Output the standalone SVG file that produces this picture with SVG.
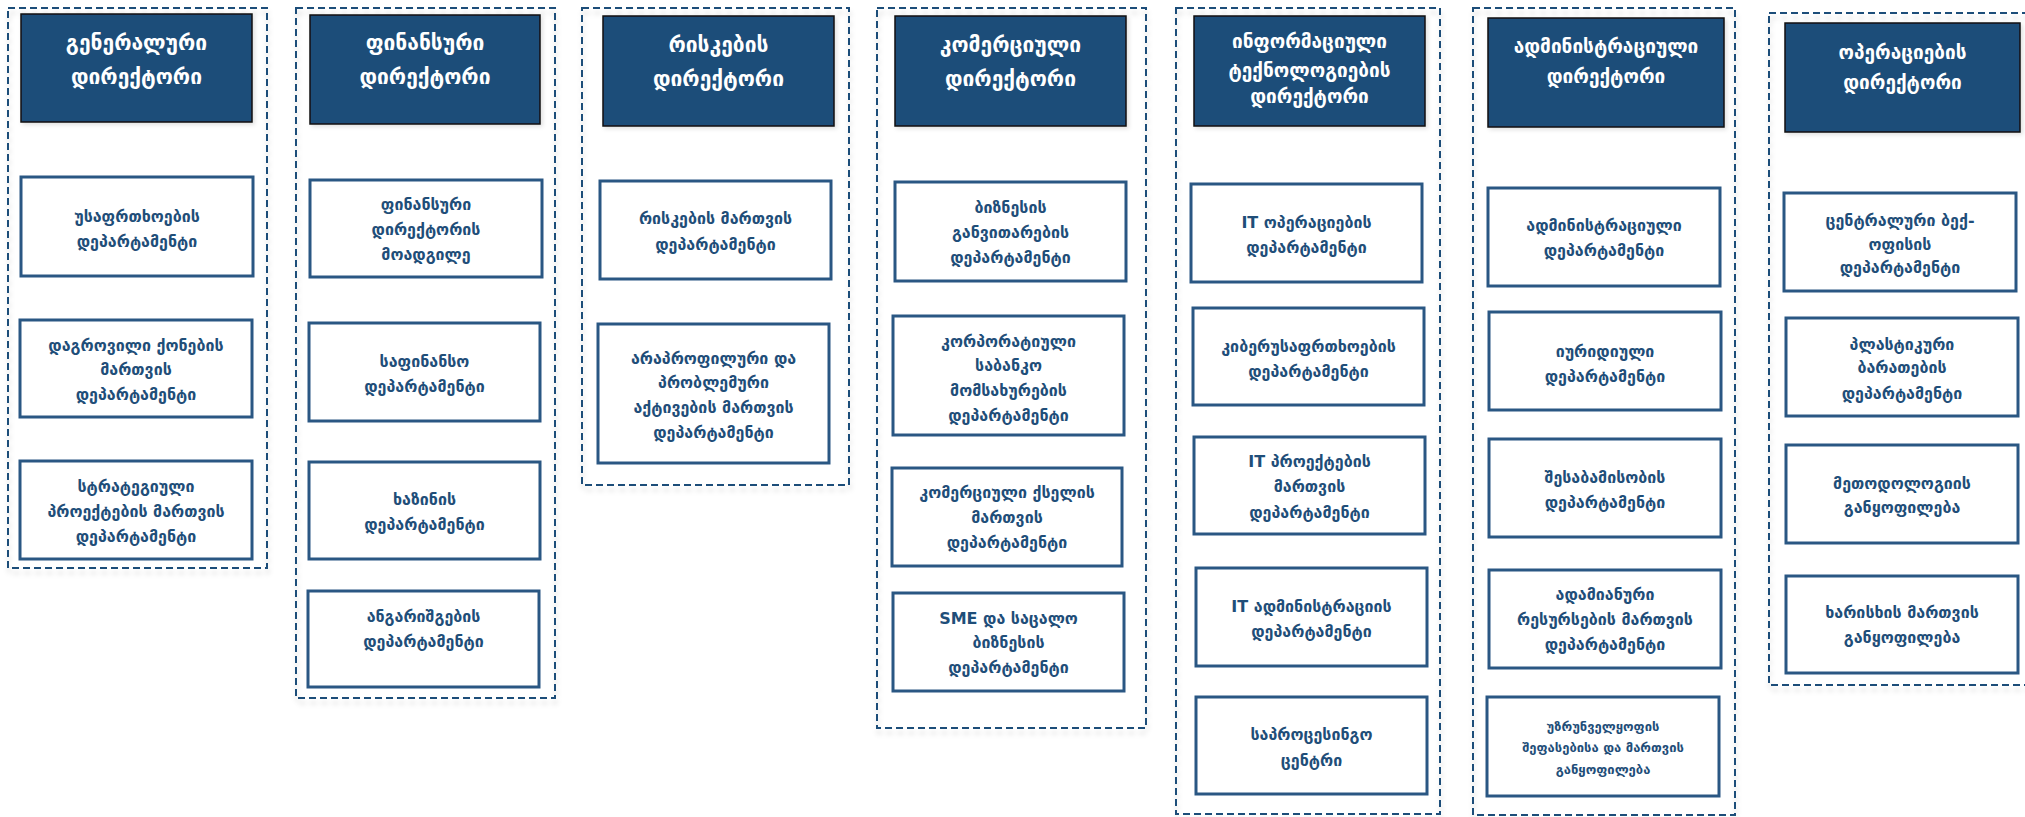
<svg xmlns="http://www.w3.org/2000/svg" width="2025" height="817" viewBox="0 0 2025 817">
<defs>
<filter id="sh" x="-10%" y="-10%" width="120%" height="120%">
<feDropShadow dx="1" dy="5" stdDeviation="2.5" flood-color="#000" flood-opacity="0.14"/>
</filter>
<filter id="sh2" x="-10%" y="-10%" width="120%" height="130%">
<feDropShadow dx="2" dy="2" stdDeviation="2" flood-color="#000" flood-opacity="0.12"/>
</filter>
</defs>
<style>
.grp{fill:none;stroke:#1F4E79;stroke-width:2;stroke-dasharray:7 4;filter:url(#sh)}
.hd{fill:#1F4E79;stroke:#111;stroke-width:1.5;filter:url(#sh2)}
.bx{fill:#fff;stroke:#2A5783;stroke-width:3}
.ht{fill:#fff;font-family:'DejaVu Sans',sans-serif;font-size:21px;font-weight:bold;text-anchor:middle}
.hs{font-size:19px}
.bt{fill:#1F4E79;font-family:'DejaVu Sans',sans-serif;font-size:16px;font-weight:bold;text-anchor:middle}
.sm{font-size:13px}
</style>
<rect width="2025" height="817" fill="#fff"/>

<!-- containers -->
<g id="groups">
<rect id="grp-general" class="grp" x="8" y="8" width="259" height="560"/>
<rect id="grp-finance" class="grp" x="296" y="8" width="259" height="690"/>
<rect id="grp-risk" class="grp" x="582" y="8" width="267" height="477"/>
<rect id="grp-commercial" class="grp" x="877" y="8" width="269" height="720"/>
<rect id="grp-it" class="grp" x="1176" y="8" width="264" height="806"/>
<rect id="grp-admin" class="grp" x="1473" y="8" width="262" height="807"/>
<rect id="grp-ops" class="grp" x="1769" y="13" width="290" height="672"/>
</g>

<!-- column 1 -->
<g id="n-general-dir"><rect class="hd" x="21" y="14" width="231" height="108"/>
<text class="ht"><tspan x="136.5" y="50">გენერალური</tspan><tspan x="136.5" y="84">დირექტორი</tspan></text></g>
<g id="n-security"><rect class="bx" x="21" y="177" width="232" height="99"/>
<text class="bt"><tspan x="137" y="222">უსაფრთხოების</tspan><tspan x="137" y="247">დეპარტამენტი</tspan></text></g>
<g id="n-assets"><rect class="bx" x="20" y="320" width="232" height="97"/>
<text class="bt"><tspan x="136" y="351">დაგროვილი ქონების</tspan><tspan x="136" y="375">მართვის</tspan><tspan x="136" y="400">დეპარტამენტი</tspan></text></g>
<g id="n-strategic"><rect class="bx" x="20" y="461" width="232" height="98"/>
<text class="bt"><tspan x="136" y="492">სტრატეგიული</tspan><tspan x="136" y="517">პროექტების მართვის</tspan><tspan x="136" y="542">დეპარტამენტი</tspan></text></g>

<!-- column 2 -->
<g id="n-finance-dir"><rect class="hd" x="310" y="15" width="230" height="109"/>
<text class="ht"><tspan x="425" y="50">ფინანსური</tspan><tspan x="425" y="84">დირექტორი</tspan></text></g>
<g id="n-finance-deputy"><rect class="bx" x="310" y="180" width="232" height="97"/>
<text class="bt"><tspan x="426" y="210">ფინანსური</tspan><tspan x="426" y="235">დირექტორის</tspan><tspan x="426" y="260">მოადგილე</tspan></text></g>
<g id="n-finance-dept"><rect class="bx" x="309" y="323" width="231" height="98"/>
<text class="bt"><tspan x="424.5" y="367">საფინანსო</tspan><tspan x="424.5" y="392">დეპარტამენტი</tspan></text></g>
<g id="n-treasury"><rect class="bx" x="309" y="462" width="231" height="97"/>
<text class="bt"><tspan x="424.5" y="505">ხაზინის</tspan><tspan x="424.5" y="530">დეპარტამენტი</tspan></text></g>
<g id="n-reporting"><rect class="bx" x="308" y="591" width="231" height="96"/>
<text class="bt"><tspan x="423.5" y="622">ანგარიშგების</tspan><tspan x="423.5" y="647">დეპარტამენტი</tspan></text></g>

<!-- column 3 -->
<g id="n-risk-dir"><rect class="hd" x="603" y="16" width="231" height="110"/>
<text class="ht"><tspan x="718.5" y="52">რისკების</tspan><tspan x="718.5" y="86">დირექტორი</tspan></text></g>
<g id="n-risk-mgmt"><rect class="bx" x="600" y="181" width="231" height="98"/>
<text class="bt"><tspan x="715.5" y="224">რისკების მართვის</tspan><tspan x="715.5" y="250">დეპარტამენტი</tspan></text></g>
<g id="n-npl"><rect class="bx" x="598" y="324" width="231" height="139"/>
<text class="bt"><tspan x="713.5" y="364">არაპროფილური და</tspan><tspan x="713.5" y="388">პრობლემური</tspan><tspan x="713.5" y="413">აქტივების მართვის</tspan><tspan x="713.5" y="438">დეპარტამენტი</tspan></text></g>

<!-- column 4 -->
<g id="n-commercial-dir"><rect class="hd" x="895" y="16" width="231" height="110"/>
<text class="ht"><tspan x="1010.5" y="52">კომერციული</tspan><tspan x="1010.5" y="86">დირექტორი</tspan></text></g>
<g id="n-bizdev"><rect class="bx" x="895" y="182" width="231" height="99"/>
<text class="bt"><tspan x="1010.5" y="213">ბიზნესის</tspan><tspan x="1010.5" y="238">განვითარების</tspan><tspan x="1010.5" y="263">დეპარტამენტი</tspan></text></g>
<g id="n-corporate"><rect class="bx" x="893" y="316" width="231" height="119"/>
<text class="bt"><tspan x="1008.5" y="347">კორპორატიული</tspan><tspan x="1008.5" y="371">საბანკო</tspan><tspan x="1008.5" y="396">მომსახურების</tspan><tspan x="1008.5" y="421">დეპარტამენტი</tspan></text></g>
<g id="n-network"><rect class="bx" x="892" y="468" width="230" height="98"/>
<text class="bt"><tspan x="1007" y="498">კომერციული ქსელის</tspan><tspan x="1007" y="523">მართვის</tspan><tspan x="1007" y="548">დეპარტამენტი</tspan></text></g>
<g id="n-sme"><rect class="bx" x="893" y="593" width="231" height="98"/>
<text class="bt"><tspan x="1008.5" y="624">SME და საცალო</tspan><tspan x="1008.5" y="648">ბიზნესის</tspan><tspan x="1008.5" y="673">დეპარტამენტი</tspan></text></g>

<!-- column 5 -->
<g id="n-it-dir"><rect class="hd" x="1194" y="16" width="231" height="110"/>
<text class="ht hs"><tspan x="1309.5" y="48">ინფორმაციული</tspan><tspan x="1309.5" y="77">ტექნოლოგიების</tspan><tspan x="1309.5" y="103">დირექტორი</tspan></text></g>
<g id="n-it-ops"><rect class="bx" x="1191" y="184" width="231" height="98"/>
<text class="bt"><tspan x="1306.5" y="228">IT ოპერაციების</tspan><tspan x="1306.5" y="253">დეპარტამენტი</tspan></text></g>
<g id="n-cyber"><rect class="bx" x="1193" y="308" width="231" height="97"/>
<text class="bt"><tspan x="1308.5" y="352">კიბერუსაფრთხოების</tspan><tspan x="1308.5" y="377">დეპარტამენტი</tspan></text></g>
<g id="n-it-projects"><rect class="bx" x="1194" y="437" width="231" height="97"/>
<text class="bt"><tspan x="1309.5" y="467">IT პროექტების</tspan><tspan x="1309.5" y="492">მართვის</tspan><tspan x="1309.5" y="518">დეპარტამენტი</tspan></text></g>
<g id="n-it-admin"><rect class="bx" x="1196" y="568" width="231" height="98"/>
<text class="bt"><tspan x="1311.5" y="612">IT ადმინისტრაციის</tspan><tspan x="1311.5" y="637">დეპარტამენტი</tspan></text></g>
<g id="n-processing"><rect class="bx" x="1196" y="697" width="231" height="97"/>
<text class="bt"><tspan x="1311.5" y="740">საპროცესინგო</tspan><tspan x="1311.5" y="766">ცენტრი</tspan></text></g>

<!-- column 6 -->
<g id="n-admin-dir"><rect class="hd" x="1488" y="18" width="236" height="109"/>
<text class="ht hs"><tspan x="1606" y="53">ადმინისტრაციული</tspan><tspan x="1606" y="83">დირექტორი</tspan></text></g>
<g id="n-admin-dept"><rect class="bx" x="1488" y="188" width="232" height="98"/>
<text class="bt"><tspan x="1604" y="231">ადმინისტრაციული</tspan><tspan x="1604" y="256">დეპარტამენტი</tspan></text></g>
<g id="n-legal"><rect class="bx" x="1489" y="312" width="232" height="98"/>
<text class="bt"><tspan x="1605" y="357">იურიდიული</tspan><tspan x="1605" y="382">დეპარტამენტი</tspan></text></g>
<g id="n-compliance"><rect class="bx" x="1489" y="439" width="232" height="98"/>
<text class="bt"><tspan x="1605" y="483">შესაბამისობის</tspan><tspan x="1605" y="508">დეპარტამენტი</tspan></text></g>
<g id="n-hr"><rect class="bx" x="1489" y="570" width="232" height="98"/>
<text class="bt"><tspan x="1605" y="600">ადამიანური</tspan><tspan x="1605" y="625">რესურსების მართვის</tspan><tspan x="1605" y="650">დეპარტამენტი</tspan></text></g>
<g id="n-assurance"><rect class="bx" x="1487" y="697" width="232" height="99"/>
<text class="bt sm"><tspan x="1603" y="731">უზრუნველყოფის</tspan><tspan x="1603" y="752">შეფასებისა და მართვის</tspan><tspan x="1603" y="774">განყოფილება</tspan></text></g>

<!-- column 7 -->
<g id="n-ops-dir"><rect class="hd" x="1785" y="23" width="235" height="109"/>
<text class="ht hs"><tspan x="1902.5" y="59">ოპერაციების</tspan><tspan x="1902.5" y="89">დირექტორი</tspan></text></g>
<g id="n-backoffice"><rect class="bx" x="1784" y="193" width="232" height="98"/>
<text class="bt"><tspan x="1900" y="226">ცენტრალური ბექ-</tspan><tspan x="1900" y="250">ოფისის</tspan><tspan x="1900" y="273">დეპარტამენტი</tspan></text></g>
<g id="n-cards"><rect class="bx" x="1786" y="318" width="232" height="98"/>
<text class="bt"><tspan x="1902" y="350">პლასტიკური</tspan><tspan x="1902" y="373">ბარათების</tspan><tspan x="1902" y="399">დეპარტამენტი</tspan></text></g>
<g id="n-methodology"><rect class="bx" x="1786" y="445" width="232" height="98"/>
<text class="bt"><tspan x="1902" y="489">მეთოდოლოგიის</tspan><tspan x="1902" y="513">განყოფილება</tspan></text></g>
<g id="n-quality"><rect class="bx" x="1786" y="576" width="232" height="97"/>
<text class="bt"><tspan x="1902" y="618">ხარისხის მართვის</tspan><tspan x="1902" y="643">განყოფილება</tspan></text></g>
</svg>
